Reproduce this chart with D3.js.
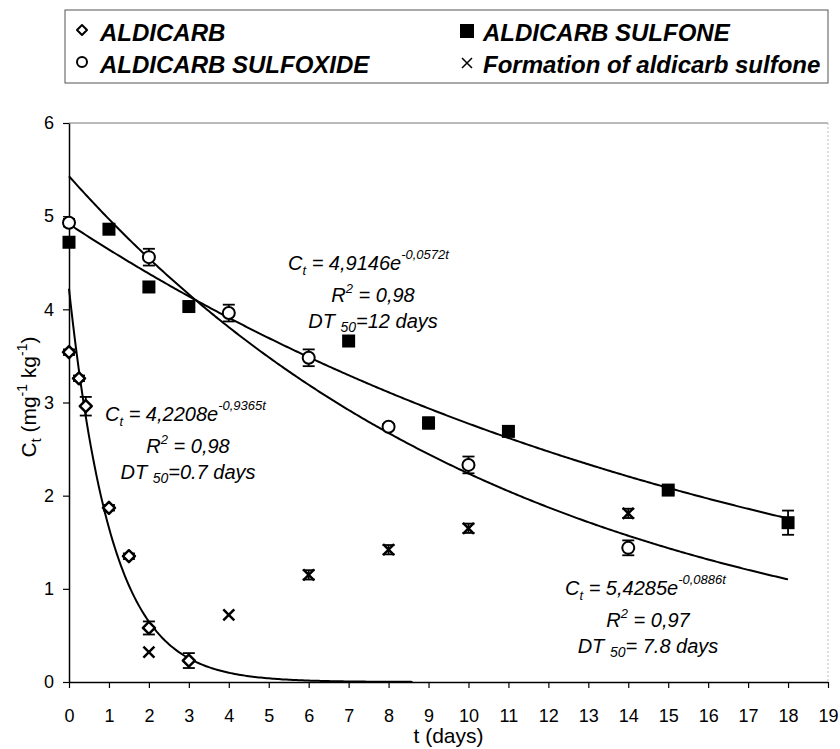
<!DOCTYPE html>
<html>
<head>
<meta charset="utf-8">
<script src="https://cdn.jsdelivr.net/npm/d3@7"></script>
<style>
  body { margin: 0; background: #fff; }
  svg { display: block; font-family: "Liberation Sans", Arial, sans-serif; }
</style>
</head>
<body>
<div id="chart"></div>
<script>
  var aldicarbT = [0, 0.25, 0.42, 1, 1.5, 2, 3];
  var aldicarbC = [3.54, 3.26, 2.96, 1.87, 1.35, 0.58, 0.23];
  var aldicarbErr = [0.03, 0.03, 0.1, 0.03, 0.03, 0.07, 0.08];

  var sulfoxideT = [0, 2, 4, 6, 8, 10, 14];
  var sulfoxideC = [4.93, 4.56, 3.96, 3.48, 2.74, 2.33, 1.44];
  var sulfoxideErr = [0.04, 0.09, 0.09, 0.09, 0.03, 0.09, 0.08];

  var sulfoneT = [0, 1, 2, 3, 7, 9, 11, 15, 18];
  var sulfoneC = [4.72, 4.86, 4.24, 4.03, 3.66, 2.78, 2.69, 2.06, 1.71];
  var sulfoneErr = [0, 0, 0, 0, 0, 0.06, 0.03, 0.03, 0.13];

  var formationT = [2, 4, 6, 8, 10, 14];
  var formationC = [0.32, 0.72, 1.15, 1.42, 1.65, 1.81];
  var formationErr = [0, 0, 0.05, 0.05, 0.05, 0.05];

  // first order fits Ct = a*exp(-k t)
  var fitA = [4.2208, 4.9146, 5.4285];
  var fitK = [0.9365, 0.0572, 0.0886];
  var fitEnd = [8.6, 18, 18];

  var xTicks = d3.range(0, 20);
  var yTicks = [0, 1, 2, 3, 4, 5, 6];

  var legendNames = ['ALDICARB', 'ALDICARB SULFONE', 'ALDICARB SULFOXIDE', 'Formation of aldicarb sulfone'];

  var width = 840, height = 749;
  var svg = d3.select('#chart').append('svg').attr('width', width).attr('height', height);

  var x = d3.scaleLinear().domain([0, 19]).range([69, 828]);
  var y = d3.scaleLinear().domain([0, 6]).range([682, 123]);

  // frame: top and right lines are grey
  svg.append('line').attr('x1', x(0)).attr('x2', x(19)).attr('y1', y(6)).attr('y2', y(6))
      .attr('stroke', '#777').attr('stroke-width', 1.2);
  svg.append('line').attr('x1', x(19)).attr('x2', x(19)).attr('y1', y(6)).attr('y2', y(0))
      .attr('stroke', '#bbb').attr('stroke-width', 1).attr('stroke-dasharray', '2,2');

  var xAxis = svg.append('g').attr('transform', 'translate(0,' + y(0) + ')')
      .call(d3.axisBottom(x).tickValues(xTicks).tickFormat(d3.format('d'))
        .tickSize(6).tickPadding(21).tickSizeOuter(0));
  var yAxis = svg.append('g').attr('transform', 'translate(' + x(0) + ',0)')
      .call(d3.axisLeft(y).tickValues(yTicks).tickFormat(d3.format('d'))
        .tickSize(6).tickPadding(9).tickSizeOuter(0));

  [xAxis, yAxis].forEach(function(g) {
    g.select('.domain').attr('stroke', '#000').attr('stroke-width', 1.5);
    g.selectAll('.tick line').attr('stroke', '#000').attr('stroke-width', 1.2);
    g.selectAll('.tick text').attr('fill', '#000').style('font-size', '18px')
        .style('font-family', '"Liberation Sans", Arial, sans-serif');
  });

  // axis titles
  svg.append('text').attr('x', (x(0) + x(19)) / 2).attr('y', 743)
      .attr('text-anchor', 'middle').style('font-size', '21px').text('t (days)');

  var yl = svg.append('text').attr('transform', 'translate(36,397) rotate(-90)')
      .attr('text-anchor', 'middle').style('font-size', '21px');
  yl.append('tspan').text('C');
  yl.append('tspan').attr('dy', 5).style('font-size', '14px').text('t');
  yl.append('tspan').attr('dy', -5).text(' (mg');
  yl.append('tspan').attr('dy', -9).style('font-size', '14px').text('-1');
  yl.append('tspan').attr('dy', 9).text(' kg');
  yl.append('tspan').attr('dy', -9).style('font-size', '14px').text('-1');
  yl.append('tspan').attr('dy', 9).text(')');

  // fitted curves
  var line = d3.line().x(function(d) { return x(d[0]); }).y(function(d) { return y(d[1]); });
  fitA.forEach(function(a, i) {
    var pts = d3.range(0, fitEnd[i] + 0.001, 0.05).map(function(t) {
      return [t, a * Math.exp(-fitK[i] * t)];
    });
    svg.append('path').datum(pts).attr('d', line)
        .attr('fill', 'none').attr('stroke', '#000').attr('stroke-width', 2);
  });

  function zip(ts, cs, es) {
    return ts.map(function(t, i) { return { t: t, c: cs[i], e: es[i] }; });
  }

  function errorBars(data, cap) {
    var g = svg.append('g').attr('stroke', '#000').attr('stroke-width', 1.8);
    data.filter(function(d) { return d.e > 0; }).forEach(function(d) {
      var cx = x(d.t);
      g.append('line').attr('x1', cx).attr('x2', cx).attr('y1', y(d.c - d.e)).attr('y2', y(d.c + d.e));
      g.append('line').attr('x1', cx - cap).attr('x2', cx + cap).attr('y1', y(d.c - d.e)).attr('y2', y(d.c - d.e));
      g.append('line').attr('x1', cx - cap).attr('x2', cx + cap).attr('y1', y(d.c + d.e)).attr('y2', y(d.c + d.e));
    });
  }

  var aldicarb = zip(aldicarbT, aldicarbC, aldicarbErr);
  var sulfoxide = zip(sulfoxideT, sulfoxideC, sulfoxideErr);
  var sulfone = zip(sulfoneT, sulfoneC, sulfoneErr);
  var formation = zip(formationT, formationC, formationErr);

  errorBars(aldicarb, 6);
  errorBars(sulfoxide, 6);
  errorBars(sulfone, 6);
  errorBars(formation, 6);

  function diamond(g, cx, cy, r, sw) {
    g.append('path').attr('d', 'M' + cx + ',' + (cy - r) + 'L' + (cx + r) + ',' + cy + 'L' + cx + ',' + (cy + r) + 'L' + (cx - r) + ',' + cy + 'Z')
        .attr('fill', '#fff').attr('stroke', '#000').attr('stroke-width', sw).attr('stroke-linejoin', 'round');
  }
  function circle(g, cx, cy, r, sw) {
    g.append('circle').attr('cx', cx).attr('cy', cy).attr('r', r)
        .attr('fill', '#fff').attr('stroke', '#000').attr('stroke-width', sw);
  }
  function square(g, cx, cy, s) {
    g.append('rect').attr('x', cx - s / 2).attr('y', cy - s / 2).attr('width', s).attr('height', s).attr('fill', '#000');
  }
  function cross(g, cx, cy, r, sw) {
    g.append('path').attr('d', 'M' + (cx - r) + ',' + (cy - r) + 'L' + (cx + r) + ',' + (cy + r) + 'M' + (cx - r) + ',' + (cy + r) + 'L' + (cx + r) + ',' + (cy - r))
        .attr('stroke', '#000').attr('stroke-width', sw).attr('fill', 'none');
  }

  var marks = svg.append('g');
  aldicarb.forEach(function(d) { diamond(marks, x(d.t), y(d.c), 6, 2.5); });
  sulfoxide.forEach(function(d) { circle(marks, x(d.t), y(d.c), 6, 2); });
  sulfone.forEach(function(d) { square(marks, x(d.t), y(d.c), 13); });
  formation.forEach(function(d) { cross(marks, x(d.t), y(d.c), 5.5, 2.5); });

  // equations
  function equation(x0, y0, cx, coef, expo, r2, dt) {
    var t1 = svg.append('text').attr('x', x0).attr('y', y0).style('font-size', '20px').style('font-style', 'italic');
    t1.append('tspan').text('C');
    t1.append('tspan').attr('dy', 5).style('font-size', '13px').text('t');
    t1.append('tspan').attr('dy', -5).text(' = ' + coef + 'e');
    t1.append('tspan').attr('dy', -11).style('font-size', '13px').text(expo);

    var t2 = svg.append('text').attr('x', cx).attr('y', y0 + 32).attr('text-anchor', 'middle')
        .style('font-size', '20px').style('font-style', 'italic');
    t2.append('tspan').text('R');
    t2.append('tspan').attr('dy', -9).style('font-size', '13px').text('2');
    t2.append('tspan').attr('dy', 9).text('  = ' + r2);

    var t3 = svg.append('text').attr('x', cx).attr('y', y0 + 58).attr('text-anchor', 'middle')
        .style('font-size', '20px').style('font-style', 'italic');
    t3.append('tspan').text('DT ');
    t3.append('tspan').attr('dy', 4).style('font-size', '14px').text('50');
    t3.append('tspan').attr('dy', -4).text(dt);
  }
  equation(105, 421, 188, '4,2208', '-0,9365t', '0,98', '=0.7 days');
  equation(288, 270, 373, '4,9146', '-0,0572t', '0,98', '=12 days');
  equation(565, 595, 648, '5,4285', '-0,0886t', '0,97', '= 7.8 days');

  // legend
  var leg = svg.append('g');
  leg.append('rect').attr('x', 65).attr('y', 10).attr('width', 763).attr('height', 73)
      .attr('fill', 'none').attr('stroke', '#555').attr('stroke-width', 1);
  var legX = [100, 483, 100, 483];
  var legY = [41, 41, 73, 73];
  legendNames.forEach(function(n, i) {
    leg.append('text').attr('x', legX[i]).attr('y', legY[i])
        .style('font-size', '24px').style('font-weight', 'bold').style('font-style', 'italic').text(n);
  });
  diamond(leg, 82, 30, 5, 2);
  square(leg, 467, 31, 14);
  circle(leg, 82, 62, 5, 2);
  cross(leg, 467, 63, 5, 1.5);
</script>
</body>
</html>
